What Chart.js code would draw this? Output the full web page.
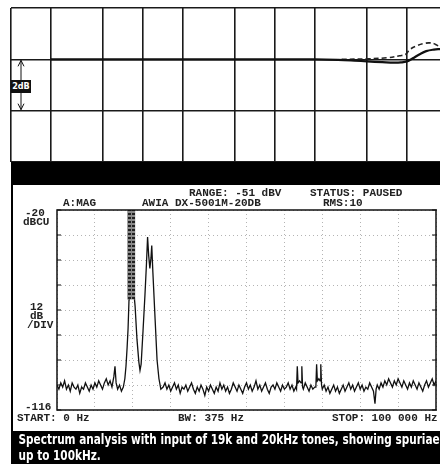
<!DOCTYPE html>
<html>
<head>
<meta charset="utf-8">
<script src="https://cdn.jsdelivr.net/npm/chart.js@4.4.1/dist/chart.umd.min.js"></script>
<style>
  html, body { margin: 0; padding: 0; background: #fff; }
  body { width: 440px; height: 464px; position: relative; overflow: hidden; }
  canvas { position: absolute; left: 0; }
  .t { position: absolute; font: bold 11px "Liberation Mono", "DejaVu Sans Mono", monospace; color: #222; white-space: pre; line-height: 12px; }
  .band { position: absolute; background: #000; }
  #dbBox { position: absolute; left: 11px; top: 80px; width: 20px; height: 13px; background: #111; color: #fff;
           font: bold 9px "DejaVu Sans Condensed", "DejaVu Sans", sans-serif; font-stretch: condensed; line-height: 13px; text-align: center; }
  #caption { position: absolute; left: 11px; top: 431px; width: 429px; height: 33px; overflow: hidden; color: #fff; background: #000;
             font: bold 14px "DejaVu Sans Condensed", "DejaVu Sans", sans-serif; font-stretch: condensed; line-height: 16px; }
  #caption span { display: block; white-space: nowrap; padding-left: 9px; transform-origin: 0 50%; }
</style>
</head>
<body>
<canvas id="responseChart" width="440" height="162" style="top:0"></canvas>
<div class="band" style="left:11px; top:162px; width:429px; height:23px;"></div>
<div class="band" style="left:11px; top:185px; width:1.5px; height:246px;"></div>
<div id="dbBox">2dB</div>

<canvas id="spectrumChart" width="440" height="246" style="top:185px"></canvas>
<div class="t" style="left:189px; top:187px;">RANGE: -51 dBV</div>
<div class="t" style="left:310px; top:187px;">STATUS: PAUSED</div>
<div class="t" style="left:63px; top:197px;">A:MAG</div>
<div class="t" style="left:142px; top:197px;">AWIA DX-5001M-20DB</div>
<div class="t" style="left:323px; top:197px;">RMS:10</div>
<div class="t" style="left:25px; top:207px;">-20</div>
<div class="t" style="left:23px; top:216px;">dBCU</div>
<div class="t" style="left:30px; top:301px;">12</div>
<div class="t" style="left:30px; top:310px;">dB</div>
<div class="t" style="left:27px; top:319px;">/DIV</div>
<div class="t" style="left:25px; top:401px;">-116</div>
<div class="t" style="left:17px; top:412px;">START: 0 Hz</div>
<div class="t" style="left:178px; top:412px;">BW: 375 Hz</div>
<div class="t" style="left:332px; top:412px;">STOP: 100 000 Hz</div>

<div id="caption">
  <span id="capLine1">Spectrum analysis with input of 19k and 20kHz tones, showing spuriae</span>
  <span id="capLine2">up to 100kHz.</span>
</div>

<script>
// Frequency response panel: gridlines on a 1-2-5 log grid, 2 dB per division
const responseGridHz = [10, 20, 50, 100, 200, 500, 1000, 2000, 5000, 10000];
const responseRangeHz = [10, 17800];
const responseRangeDb = [-4, 2];
const dbMarkerSpan = [0, -2];

// [Hz, dB]
const responseSolid = [
    [20, 0], [200, 0], [1000, 0], [2000, 0], [3000, -0.02], [4000, -0.05], [5000, -0.08],
    [6500, -0.11], [8000, -0.13], [9000, -0.12], [10000, -0.08], [11000, 0.03], [12500, 0.2],
    [14000, 0.32], [16000, 0.38], [18000, 0.4]
];
const responseDashed = [
    [3200, 0], [5000, 0.02], [7000, 0.06], [8800, 0.14], [9800, 0.2], [10500, 0.38], [12000, 0.54],
    [13500, 0.62], [15000, 0.64], [16500, 0.58], [18000, 0.45]
];

// Spectrum analyser panel: 0-100 kHz, -20 to -116 dBV at 12 dB/div
const spectrumRangeKHz = [0, 100];
const spectrumStepKHz = 10;
const spectrumRangeDb = [-116, -20];
const spectrumStepDb = 12;

// [kHz, dBV]
const spectrumTrace = [
    [0, -104], [0.5, -106], [1, -103], [1.5, -105], [2, -102], [2.5, -106], [3, -104], [3.5, -107],
    [4, -103], [4.5, -105], [5, -106], [5.5, -104], [6, -108], [6.5, -105], [7, -106], [7.5, -103],
    [8, -105], [8.5, -107], [9, -104], [9.5, -106], [10, -103], [10.5, -105], [11, -102], [11.5, -104],
    [12, -106], [12.5, -103], [13, -101], [13.5, -104], [14, -102], [14.5, -105], [15, -100], [15.3, -95],
    [15.6, -103], [16, -106], [16.5, -104], [17, -107], [17.5, -105],
    // 19k/20k pair, overloaded past the top of the screen
    [17.9, -101], [18.2, -95], [18.5, -86], [18.75, -77], [19.0, -63], [19.1, -5], [20.2, -5],
    [20.4, -62], [20.6, -66], [21.1, -82], [21.6, -93], [21.9, -97], [22.2, -94], [22.7, -78],
    [23.2, -61], [23.6, -46], [23.9, -33], [24.2, -42], [24.5, -48], [24.8, -43], [25.0, -37],
    [25.3, -50], [25.9, -73], [26.4, -92], [26.9, -101], [27.4, -106],
    [28, -105], [28.5, -103], [29, -106], [29.5, -104], [30, -107], [30.5, -105], [31, -103], [31.5, -106],
    [32, -104], [32.5, -108], [33, -105], [33.5, -106], [34, -104], [34.5, -107], [35, -105], [35.5, -103],
    [36, -106], [36.5, -108], [37, -105], [37.5, -107], [38, -104], [38.5, -106], [39, -109], [39.5, -105],
    [40, -107], [40.5, -104], [41, -106], [41.5, -108], [42, -105], [42.5, -107], [43, -103], [43.5, -106],
    [44, -104], [44.5, -107], [45, -105], [45.5, -108], [46, -106], [46.5, -103], [47, -105], [47.5, -107],
    [48, -104], [48.5, -106], [49, -108], [49.5, -105], [50, -103], [50.5, -106], [51, -104], [51.5, -107],
    [52, -105], [52.5, -102], [53, -106], [53.5, -104], [54, -107], [54.5, -105], [55, -103], [55.5, -106],
    [56, -108], [56.5, -105], [57, -104], [57.5, -106], [58, -103], [58.5, -105], [59, -107], [59.5, -104],
    [60, -106], [60.5, -105], [61, -103], [61.5, -106], [62, -104], [62.5, -107], [63, -105],
    // spurious pairs
    [63.2, -106], [63.4, -95], [63.6, -103], [64.0, -102], [64.4, -103], [64.6, -95], [64.8, -105],
    [65, -106], [65.5, -103], [66, -105], [66.5, -107], [67, -104], [67.5, -106], [68, -105],
    [68.3, -105], [68.5, -94], [68.7, -102], [69.1, -101], [69.4, -102], [69.6, -94], [69.8, -104],
    [70, -106], [70.5, -104], [71, -107], [71.5, -105], [72, -108], [72.5, -106], [73, -104], [73.5, -107],
    [74, -105], [74.5, -108], [75, -106], [75.5, -104], [76, -107], [76.5, -105], [77, -103], [77.5, -106],
    [78, -104], [78.5, -107], [79, -105], [79.5, -103], [80, -106], [80.5, -104], [81, -107], [81.5, -105],
    [82, -106], [82.5, -103], [83, -105], [83.5, -107], [83.9, -113], [84.2, -106], [84.5, -104], [85, -106],
    [85.5, -103], [86, -105], [86.5, -102], [87, -104], [87.5, -101], [88, -103], [88.5, -105], [89, -102],
    [89.5, -104], [90, -101], [90.5, -103], [91, -105], [91.5, -102], [92, -104], [92.5, -106], [93, -103],
    [93.5, -105], [94, -102], [94.5, -104], [95, -106], [95.5, -103], [96, -105], [96.5, -107], [97, -104],
    [97.5, -102], [98, -105], [98.5, -103], [99, -101], [99.5, -104], [100, -102]
];
// shaded column where the trace over-ranges
const overloadBand = [[18.5, -63], [20.7, -63]];

const toXY = pts => pts.map(p => ({ x: p[0], y: p[1] }));

// Double arrow spanning one division, drawn from the y scale
const dbMarker = {
    id: 'dbMarker',
    afterDraw(chart) {
        const { ctx, chartArea, scales: { y } } = chart;
        const x = chartArea.left + 10;
        const y0 = y.getPixelForValue(dbMarkerSpan[0]) + 1;
        const y1 = y.getPixelForValue(dbMarkerSpan[1]) - 1;
        ctx.save();
        ctx.strokeStyle = '#111';
        ctx.lineWidth = 1;
        ctx.beginPath();
        ctx.moveTo(x, y0); ctx.lineTo(x, y1);
        ctx.moveTo(x - 3, y0 + 6); ctx.lineTo(x, y0); ctx.lineTo(x + 3, y0 + 6);
        ctx.moveTo(x - 3, y1 - 6); ctx.lineTo(x, y1); ctx.lineTo(x + 3, y1 - 6);
        ctx.stroke();
        ctx.restore();
    }
};

// Screen frame with inward ticks on both sides
const analyserFrame = {
    id: 'analyserFrame',
    afterDatasetsDraw(chart) {
        const { ctx, chartArea: a, scales: { y } } = chart;
        ctx.save();
        ctx.strokeStyle = '#111';
        ctx.lineWidth = 1.5;
        ctx.strokeRect(a.left, a.top, a.right - a.left, a.bottom - a.top);
        ctx.lineWidth = 1.2;
        ctx.beginPath();
        y.ticks.forEach(t => {
            const py = y.getPixelForValue(t.value);
            ctx.moveTo(a.left, py); ctx.lineTo(a.left + 4, py);
            ctx.moveTo(a.right - 4, py); ctx.lineTo(a.right + 1, py);
        });
        ctx.stroke();
        ctx.restore();
    }
};

function hatchPattern() {
    const c = document.createElement('canvas');
    c.width = 4; c.height = 4;
    const g = c.getContext('2d');
    g.fillStyle = '#8a8a8a';
    g.fillRect(0, 0, 4, 4);
    g.fillStyle = '#222';
    g.fillRect(0, 0, 3, 2);
    return g.createPattern(c, 'repeat');
}

Chart.defaults.animation = false;

new Chart(document.getElementById('responseChart'), {
    type: 'line',
    data: {
        datasets: [{
            data: toXY(responseSolid),
            borderColor: '#111',
            borderWidth: 2.2,
            pointRadius: 0,
            tension: 0.4
        }, {
            data: toXY(responseDashed),
            borderColor: '#222',
            borderWidth: 1.6,
            borderDash: [5, 3],
            pointRadius: 0,
            tension: 0.4
        }]
    },
    options: {
        responsive: false,
        layout: { padding: { left: 11, top: 8, right: 0, bottom: 0 } },
        plugins: { legend: { display: false }, tooltip: { enabled: false } },
        scales: {
            x: {
                type: 'logarithmic',
                min: responseRangeHz[0],
                max: responseRangeHz[1],
                afterBuildTicks: axis => { axis.ticks = responseGridHz.map(v => ({ value: v })); },
                ticks: { display: false },
                grid: { color: '#1a1a1a', lineWidth: 1.6, drawTicks: false },
                border: { display: false }
            },
            y: {
                min: responseRangeDb[0],
                max: responseRangeDb[1],
                ticks: { display: false, stepSize: 2 },
                grid: { color: '#1a1a1a', lineWidth: 1.6, drawTicks: false },
                border: { display: false }
            }
        }
    },
    plugins: [dbMarker]
});

new Chart(document.getElementById('spectrumChart'), {
    type: 'line',
    data: {
        datasets: [{
            data: toXY(overloadBand),
            borderWidth: 0,
            pointRadius: 0,
            backgroundColor: hatchPattern(),
            fill: 'end'
        }, {
            data: toXY(spectrumTrace),
            borderColor: '#111',
            borderWidth: 1.3,
            pointRadius: 0,
            tension: 0,
            fill: false
        }]
    },
    options: {
        responsive: false,
        layout: { padding: { left: 57, top: 25, right: 4, bottom: 21 } },
        plugins: { legend: { display: false }, tooltip: { enabled: false } },
        scales: {
            x: {
                type: 'linear',
                min: spectrumRangeKHz[0],
                max: spectrumRangeKHz[1],
                ticks: { display: false, stepSize: spectrumStepKHz },
                grid: { color: '#b4b4b4', lineWidth: 1, drawTicks: false },
                border: { display: false, dash: [1, 3] }
            },
            y: {
                min: spectrumRangeDb[0],
                max: spectrumRangeDb[1],
                ticks: { display: false, stepSize: spectrumStepDb },
                grid: { color: '#b4b4b4', lineWidth: 1, drawTicks: false },
                border: { display: false, dash: [1, 3] }
            }
        }
    },
    plugins: [analyserFrame]
});

// squeeze the caption so the first line runs to the right edge
const cap1 = document.getElementById('capLine1');
const cap2 = document.getElementById('capLine2');
const natural = cap1.scrollWidth - 9;
const squeeze = Math.min(1, 421 / natural);
cap1.style.transform = cap2.style.transform = `scaleX(${squeeze})`;
</script>
</body>
</html>
